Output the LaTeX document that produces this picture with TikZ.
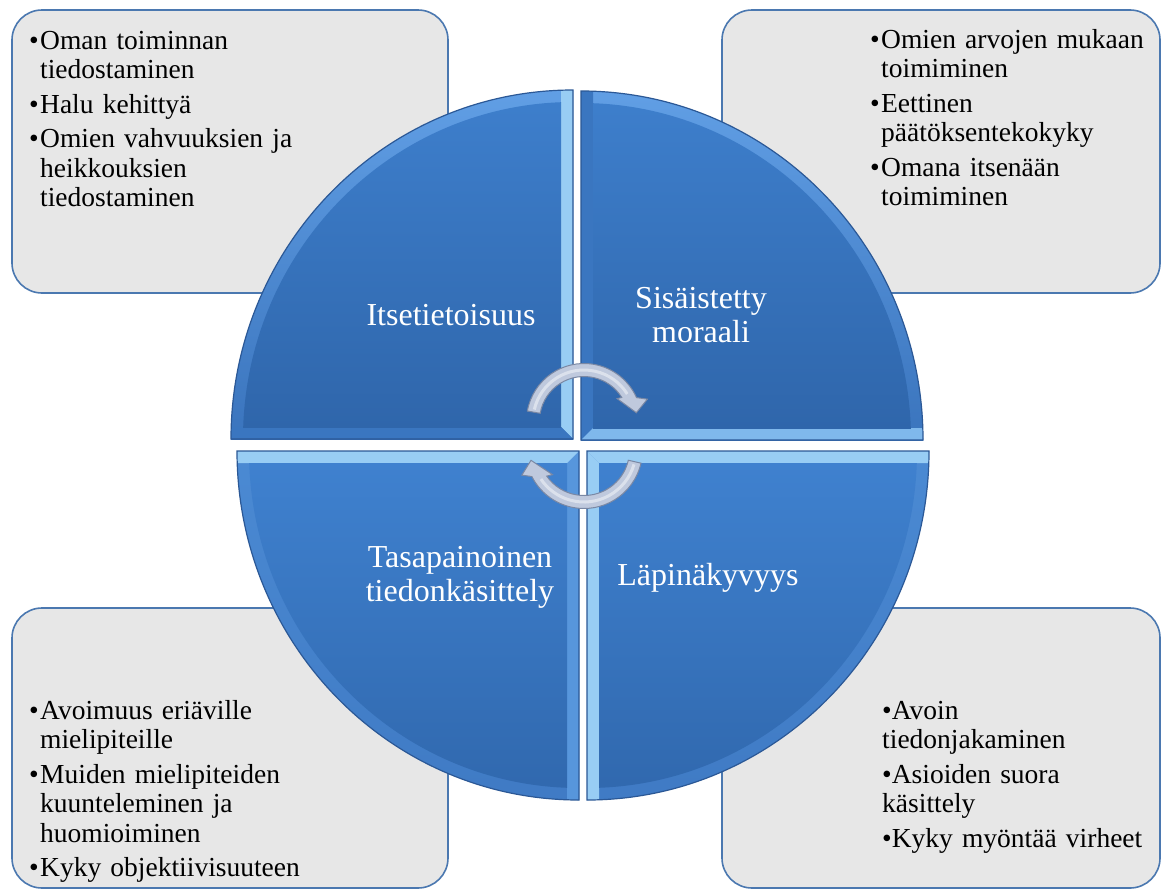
\documentclass[tikz,border=0pt]{standalone}
\usepackage{fontspec}
\setmainfont{Liberation Serif}
\usetikzlibrary{calc}

\definecolor{boxfill}{HTML}{E7E7E7}
\definecolor{boxline}{HTML}{4B78B0}
\definecolor{facetop}{HTML}{3F81CF}
\definecolor{facebot}{HTML}{2F66AB}
\definecolor{quadline}{HTML}{2B5896}
\definecolor{arrowfill}{HTML}{BFC9DD}
\definecolor{arrowline}{HTML}{7A88A4}
% bevel colours of the four quarters
\definecolor{arcUpTop}{HTML}{62A0E6}
\definecolor{arcUpBot}{HTML}{3A74BD}
\definecolor{arcLoTop}{HTML}{4B8AD3}
\definecolor{arcLoBot}{HTML}{3F7AC4}
\definecolor{bevLight}{HTML}{98CDF4}
\definecolor{bevPale}{HTML}{7FB8EC}
\definecolor{bevMid}{HTML}{5796DC}
\definecolor{bevDark}{HTML}{3A76C0}

\newcommand\bulletline[1]{\par\hangindent=11pt\hangafter=1\noindent\strut\makebox[11pt][l]{•}#1}
\newcommand\bulletflat[1]{\par\noindent\strut•#1}

% #1,#2 corner; #3,#4 direction; #5,#6 arc bevel shading; #7 vertical bevel; #8 horizontal bevel; #9 start angle
\newcommand\quadrant[9]{%
  \begin{scope}
    \clip (#1,#2) ellipse [x radius=342, y radius=349];
    \clip (#1,#2) rectangle ++({#3*360},{#4*360});
    \shade[top color=#5, bottom color=#6] (#1,#2) rectangle ++({#3*360},{#4*360});
    \fill[#7] (#1,#2) -- ++({#3*12},{#4*12}) -- ++(0,{#4*400}) -- ({#1},{#2+#4*412}) -- cycle;
    \fill[#8] (#1,#2) -- ++({#3*12},{#4*12}) -- ++({#3*400},0) -- ({#1+#3*412},{#2}) -- cycle;
    \clip (#1,#2) ellipse [x radius=330, y radius=337];
    \shade[top color=facetop, bottom color=facebot] ({#1+#3*12},{#2+#4*12}) rectangle ++({#3*360},{#4*360});
  \end{scope}
  \draw[quadline, line width=1.2] (#1,#2) -- ([shift={(#1,#2)}]#9:342 and 349)
    arc[start angle=#9, delta angle=90, x radius=342, y radius=349] -- cycle;
}

\tikzset{
  infobox/.style={draw=boxline, fill=boxfill, line width=1.6, rounded corners=30},
  boxtext/.style={anchor=north west, inner sep=0, align=left,
    font=\fontsize{27.5}{29.5}\selectfont\setlength{\parskip}{5pt}},
  quadlabel/.style={text=white, align=center, inner sep=0,
    font=\fontsize{32}{34}\selectfont},
  cyclearrow/.style={fill=arrowfill, draw=arrowline, line width=1},
  arrowshine/.style={draw=white, opacity=0.45, line width=3},
}

\begin{document}
\begin{tikzpicture}[x=1pt, y=-1pt]
  \useasboundingbox (0,0) rectangle (1162,889);
  \fill[white] (0,0) rectangle (1162,889);

  % corner boxes
  \draw[infobox] (12,10) rectangle (448,293);
  \draw[infobox] (722,10) rectangle (1160,293);
  \draw[infobox] (12,608) rectangle (448,888);
  \draw[infobox] (722,608) rectangle (1160,888);

  \node[boxtext, text width=415] (txtTL) at (29,14.5)
    {\bulletline{Oman toiminnan\newline tiedostaminen}%
     \bulletline{Halu kehittyä}%
     \bulletline{Omien vahvuuksien ja\newline heikkouksien\newline tiedostaminen}\par};
  \node[boxtext, text width=290] (txtTR) at (870,13.5)
    {\bulletline{Omien arvojen mukaan\newline toimiminen}%
     \bulletline{Eettinen\newline päätöksentekokyky}%
     \bulletline{Omana itsenään\newline toimiminen}\par};
  \node[boxtext, text width=415] (txtBL) at (29,684.5)
    {\bulletline{Avoimuus eriäville\newline mielipiteille}%
     \bulletline{Muiden mielipiteiden\newline kuunteleminen ja\newline huomioiminen}%
     \bulletline{Kyky objektiivisuuteen}\par};
  \node[boxtext, text width=275] (txtBR) at (882,684.5)
    {\bulletflat{Avoin\newline tiedonjakaminen}%
     \bulletflat{Asioiden suora\newline käsittely}%
     \bulletflat{Kyky myöntää virheet}\par};

  % the four quarters of the circle
  \quadrant{573}{439}{-1}{-1}{arcUpTop}{arcUpBot}{bevLight}{bevDark}{180}
  \quadrant{581}{440}{1}{-1}{arcUpTop}{arcUpBot}{bevDark}{bevPale}{270}
  \quadrant{579}{451}{-1}{1}{arcLoTop}{arcLoBot}{bevMid}{bevLight}{90}
  \quadrant{587}{451}{1}{1}{arcLoTop}{arcLoBot}{bevLight}{bevLight}{0}

  \node[quadlabel, anchor=base] (lblTL) at (451,325) {Itsetietoisuus};
  \node[quadlabel] (lblTR) at (701,318.2) {\strut Sisäistetty\\\strut moraali};
  \node[quadlabel] (lblBL) at (460,577.2) {\strut Tasapainoinen\\\strut tiedonkäsittely};
  \node[quadlabel, anchor=base] (lblBR) at (708,585) {Läpinäkyvyys};

  % circular arrows in the middle
  \begin{scope}[shift={(584,421)}]
    \filldraw[cyclearrow] (190:57.5) arc[start angle=190, end angle=336, radius=57.5]
      -- (341:67) -- (351:53) -- (326:40) -- (328:44.5)
      arc[start angle=328, end angle=190, radius=44.5] -- cycle;
    \draw[arrowshine] (193:51) arc[start angle=193, end angle=328, radius=51];
  \end{scope}
  \begin{scope}[shift={(584,450)}]
    \filldraw[cyclearrow] (13:58.5) arc[start angle=13, end angle=153, radius=58.5]
      -- (158:67) -- (169:54) -- (142:40) -- (145:45.5)
      arc[start angle=145, end angle=13, radius=45.5] -- cycle;
    \draw[arrowshine] (16:52) arc[start angle=16, end angle=146, radius=52];
  \end{scope}
\end{tikzpicture}
\end{document}
